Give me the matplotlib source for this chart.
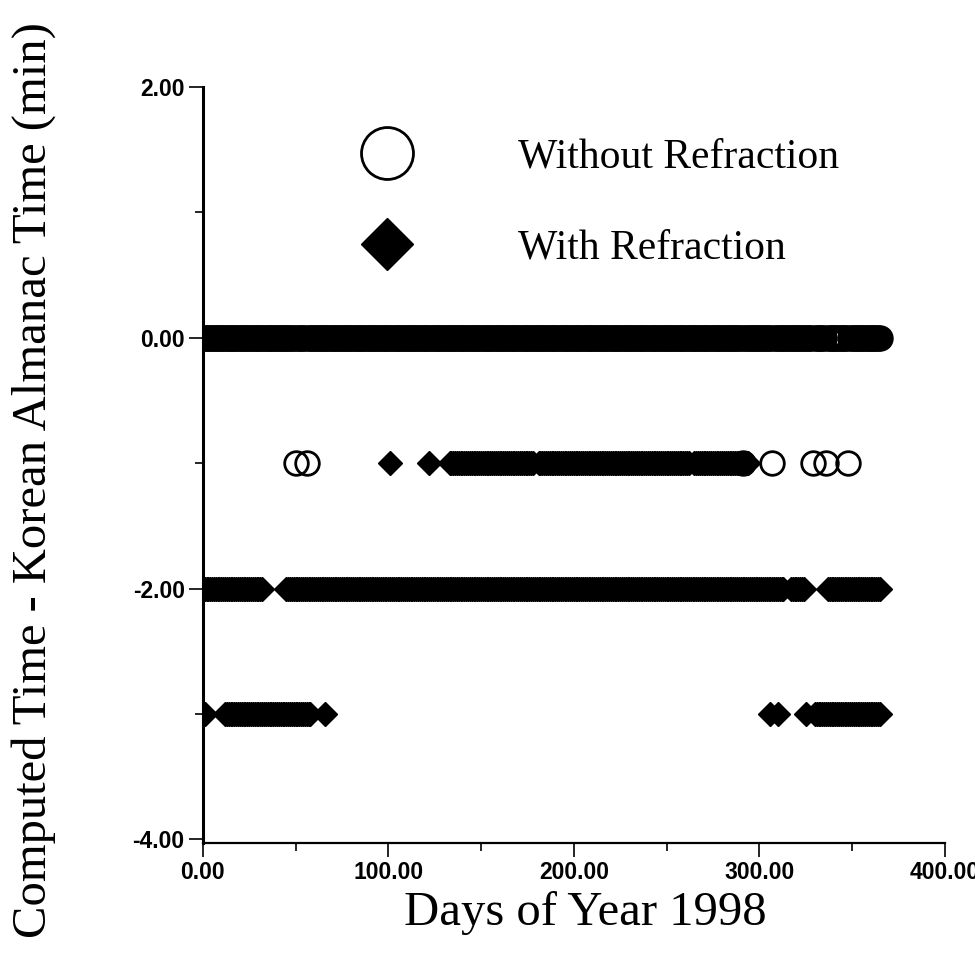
#!/usr/bin/env python3
"""Computed minus Korean Almanac time over the days of 1998."""

import matplotlib

matplotlib.use("Agg")
import matplotlib.pyplot as plt
import numpy as np
from matplotlib.ticker import MultipleLocator

# days (1..365) where the "without refraction" difference was -1 min; all others are 0
circle_minus1_days = [50, 56, 291, 307, 329, 336, 348]

# runs of days (first, last) for the "with refraction" differences
diamond_runs = {
    -1.0: [(101, 101), (122, 122), (133, 178), (181, 262), (265, 294)],
    -2.0: [(1, 32), (45, 313), (317, 324), (337, 365)],
    -3.0: [(1, 1), (12, 58), (66, 66), (306, 306), (310, 310), (325, 325), (330, 365)],
}

all_days = np.arange(1, 366)
circle_zero_days = [d for d in all_days if d not in circle_minus1_days]


def expand(runs):
    return np.concatenate([np.arange(a, b + 1) for a, b in runs])


serif = ["Liberation Serif", "DejaVu Serif"]
narrow = ["Liberation Sans Narrow", "Liberation Sans", "DejaVu Sans"]

fig = plt.figure(figsize=(9.75, 9.56), dpi=100)
ax = fig.add_axes([0.208, 0.118, 0.761, 0.791])

circle_style = dict(linestyle="none", marker="o", markersize=17, markerfacecolor="none",
                    markeredgecolor="black", markeredgewidth=2.0)
diamond_style = dict(linestyle="none", marker="D", markersize=12, color="black")

ax.plot(circle_zero_days, np.zeros(len(circle_zero_days)), label="Without Refraction",
        **circle_style)
ax.plot(circle_minus1_days, np.full(len(circle_minus1_days), -1.0), **circle_style)
first = True
for level, runs in diamond_runs.items():
    days = expand(runs)
    ax.plot(days, np.full(len(days), level), label="With Refraction" if first else None,
            **diamond_style)
    first = False

ax.set_xlim(0, 400)
ax.set_ylim(-4.03, 2.0)
ax.set_xticks([0, 100, 200, 300, 400])
ax.set_yticks([2, 0, -2, -4])
ax.xaxis.set_minor_locator(MultipleLocator(50))
ax.yaxis.set_minor_locator(MultipleLocator(1))
ax.xaxis.set_major_formatter(lambda v, p: f"{v:.2f}")
ax.yaxis.set_major_formatter(lambda v, p: f"{v:.2f}")
ax.tick_params(which="major", length=10, width=1.2, direction="out", pad=3)
ax.tick_params(which="minor", length=6, width=1.2, direction="out")
for lab in ax.get_xticklabels() + ax.get_yticklabels():
    lab.set_family(narrow)
    lab.set_fontweight("bold")
    lab.set_fontsize(16.5)

for side in ("top", "right"):
    ax.spines[side].set_visible(False)
ax.spines["left"].set_linewidth(2.2)
ax.spines["bottom"].set_linewidth(1.6)

ax.set_xlabel("Days of Year 1998", family=serif, fontsize=35)
ax.xaxis.set_label_coords(0.516, -0.063)
ax.set_ylabel("Computed Time - Korean Almanac Time (min)", family=serif, fontsize=35)
ax.yaxis.set_label_coords(-0.198, 0.48)

ax.legend(loc="upper left", bbox_to_anchor=(0.192, 0.932), frameon=False, numpoints=1,
          markerscale=2.2, prop={"family": serif, "size": 30}, handlelength=2.0,
          handletextpad=2.15, labelspacing=1.25, borderpad=0, borderaxespad=0)

fig.savefig("out.png", dpi=100)
